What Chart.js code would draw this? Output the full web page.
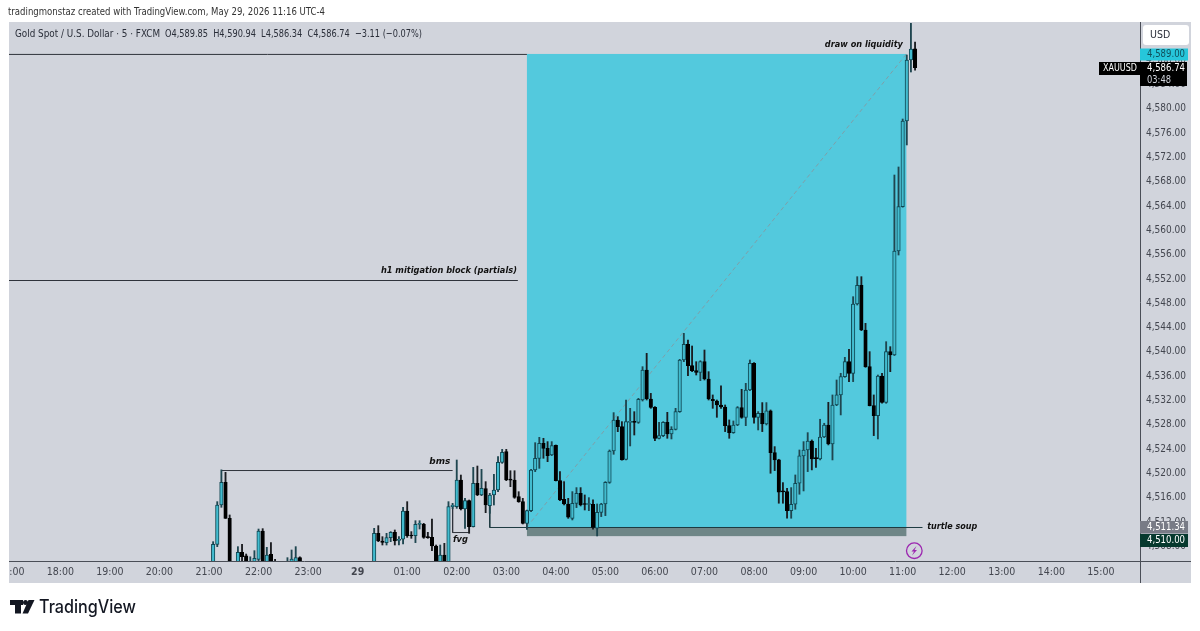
<!DOCTYPE html>
<html>
<head>
<meta charset="utf-8">
<title>XAUUSD 5m</title>
<script src="https://cdn.jsdelivr.net/npm/chart.js@4"></script>
<style>
html, body { margin: 0; padding: 0; background: #fff; }
canvas { display: block; }
</style>
</head>
<body>
<canvas id="chart" width="1200" height="631"></canvas>
<script>
// bars counted in 5 minute steps from 21:00, the ones below the visible range are left out
const barIndex = [
	1, 2, 3, 4, 5, 7, 8, 9, 10, 11, 12, 13, 14, 15, 16, 19, 20, 21, 22,
	40, 41, 42, 43, 44, 45, 46, 47, 48, 49, 50, 51, 52, 53, 54, 55, 56, 57, 58, 59,
	60, 61, 62, 63, 64, 65, 66, 67, 68, 69, 70, 71, 72, 73, 74, 75, 76, 77, 78, 79,
	80, 81, 82, 83, 84, 85, 86, 87, 88, 89, 90, 91, 92, 93, 94, 95, 96, 97, 98, 99,
	100, 101, 102, 103, 104, 105, 106, 107, 108, 109, 110, 111, 112, 113, 114, 115, 116, 117, 118, 119,
	120, 121, 122, 123, 124, 125, 126, 127, 128, 129, 130, 131, 132, 133, 134, 135, 136, 137, 138, 139,
	140, 141, 142, 143, 144, 145, 146, 147, 148, 149, 150, 151, 152, 153, 154, 155, 156, 157, 158, 159,
	160, 161, 162, 163, 164, 165, 166, 167, 168, 169, 170, 171
];
const opens = [
	4504, 4508.35, 4514.82, 4518.55, 4512.63, 4505, 4507.04, 4506.44, 4505, 4505, 4505.89, 4510.55, 4505, 4506.71, 4505.4, 4505.3, 4505.2, 4505.3, 4506.16,
	4504, 4510.16, 4508.9, 4508.63, 4509.45, 4510.33, 4509, 4509.18, 4513.83, 4509.89, 4509.78, 4511.64, 4511.64, 4509.61, 4509.5, 4508.08, 4504.5, 4506.6, 4504.5, 4514.55,
	4514.55, 4518.93, 4514.16, 4515.53, 4511.26, 4518.38, 4516.46, 4517.51, 4514.71, 4516.46, 4517.29, 4521.83, 4523.59, 4518.93, 4518.93, 4516.19, 4515.37, 4511.81, 4513.89, 4520.58,
	4522.5, 4524.96, 4524.14, 4523.05, 4524.64, 4518.83, 4515.76, 4514.99, 4512.63, 4515.1, 4516.74, 4514.94, 4514.9, 4514.94, 4510.99, 4513.62, 4514.99, 4518.55, 4523.7, 4528.8,
	4527.7, 4522.33, 4528.42, 4528.45, 4528.42, 4532.09, 4537.02, 4532.25, 4530.88, 4525.79, 4526.22, 4528.42, 4526.5, 4527.27, 4530.17, 4538.66, 4541.24, 4537.73, 4536.91, 4536.64,
	4538.39, 4535.54, 4532.2, 4531.93, 4531.27, 4530.94, 4527.87, 4526.72, 4527.98, 4530.83, 4529.24, 4533.74, 4538.12, 4529.24, 4529.9, 4528.15, 4530.29, 4523.44, 4522.23, 4517.02,
	4517.02, 4513.9, 4514.94, 4518.39, 4522.89, 4523.87, 4525.35, 4522.5, 4522.39, 4526.01, 4527.98, 4524.86, 4531.27, 4532.92, 4535.93, 4538.4, 4536.48, 4547.88, 4550.95, 4543.6,
	4537.57, 4531.16, 4529.52, 4536.04, 4531.71, 4540.04, 4539.49, 4556.59, 4563.88, 4577.97, 4588, 4589.85
];
const highs = [
	4508.79, 4515.37, 4520.6, 4520.19, 4513.18, 4507.97, 4508.35, 4506.76, 4506.3, 4507.31, 4510.87, 4510.93, 4507.86, 4508.63, 4505.9, 4506.16, 4507.42, 4507.97, 4506.3,
	4510.98, 4511.42, 4509.61, 4510.16, 4510.44, 4510.71, 4509.61, 4514.44, 4515.37, 4510.44, 4512.24, 4512.24, 4511.81, 4510.33, 4512.52, 4508.24, 4508.24, 4508.52, 4515.37, 4515.09,
	4522.22, 4519.75, 4515.92, 4515.64, 4521.01, 4521.23, 4520.68, 4518.66, 4516.74, 4519.86, 4522.77, 4523.97, 4523.97, 4520.46, 4520.46, 4517.01, 4515.92, 4514, 4520.69, 4525.07,
	4525.95, 4525.79, 4525.24, 4525.24, 4524.69, 4520.31, 4518.66, 4515.92, 4517.02, 4517.68, 4517.68, 4516.47, 4516.03, 4515.65, 4514.99, 4515.1, 4518.66, 4523.87, 4530.01, 4529.35,
	4528.53, 4532.09, 4530.72, 4530.17, 4532.36, 4537.57, 4539.76, 4533.18, 4530.99, 4528.42, 4528.53, 4530.06, 4527.7, 4530.72, 4538.77, 4543.05, 4541.95, 4540.97, 4538.39, 4538.55,
	4540.31, 4536.75, 4532.92, 4532.09, 4534.4, 4531.27, 4528.81, 4528.64, 4531, 4533.85, 4534.83, 4538.67, 4538.23, 4530.18, 4531.66, 4531.66, 4530.45, 4524.42, 4522.34, 4518.5,
	4517.57, 4517.68, 4519.76, 4523.87, 4525.24, 4526.72, 4525.52, 4524.15, 4528.92, 4528.26, 4531.71, 4532.92, 4535.38, 4536.48, 4539.11, 4540.42, 4549.08, 4552.37, 4552.37, 4544.7,
	4540.04, 4532.92, 4536.2, 4536.48, 4541.68, 4540.86, 4569.09, 4570.41, 4578.3, 4588.83, 4594.5, 4590.94
];
const lows = [
	4503, 4507.97, 4514.44, 4512.6, 4503.5, 4504.5, 4505, 4504.5, 4504.6, 4504.6, 4505.3, 4504.5, 4504.6, 4504.5, 4504.8, 4505, 4504.9, 4504.9, 4504.7,
	4503.5, 4508.79, 4508.24, 4508.24, 4508.79, 4508.24, 4508.24, 4508.41, 4509.5, 4509.34, 4508.63, 4510.87, 4509.34, 4509.34, 4507.31, 4503.5, 4504, 4504, 4504, 4514.2,
	4514.27, 4514, 4510.98, 4510.16, 4511.2, 4516.35, 4516.35, 4513.56, 4513.45, 4514.82, 4517.01, 4521.67, 4518.82, 4517.83, 4515.92, 4515.26, 4511.7, 4510.8, 4513.73, 4520.31,
	4520.85, 4522.5, 4521.95, 4522.94, 4518.77, 4515.54, 4514.83, 4512.63, 4512.36, 4514.39, 4514.66, 4514, 4513.89, 4510.83, 4509.73, 4512.91, 4513.07, 4518.39, 4523.16, 4526.88,
	4522.2, 4522.22, 4524.53, 4526.33, 4528.25, 4531.92, 4532.09, 4530.72, 4525.4, 4525.68, 4526.06, 4525.79, 4525.68, 4527.16, 4530.06, 4538.39, 4536.09, 4536.75, 4536.2, 4535.27,
	4535.38, 4532.09, 4530.72, 4529.24, 4530.72, 4526.89, 4525.79, 4526.61, 4527.87, 4529.08, 4527.87, 4533.63, 4528.26, 4527.16, 4526.89, 4527.98, 4520.04, 4520.48, 4515.11, 4515.11,
	4512.64, 4512.64, 4514.12, 4516.59, 4517.13, 4520.31, 4520.59, 4521.02, 4522.23, 4525.9, 4524.7, 4522.23, 4531.16, 4529.63, 4535.82, 4535.11, 4535.11, 4547.71, 4543.49, 4537.46,
	4531.11, 4526.23, 4525.68, 4531.55, 4531.55, 4536.75, 4539.4, 4555.93, 4563.8, 4574.03, 4586.03, 4586.34
];
const closes = [
	4508.35, 4514.82, 4518.55, 4512.63, 4504, 4507.04, 4506.33, 4505, 4505.3, 4506.05, 4510.55, 4505, 4506.6, 4505, 4505.2, 4505.5, 4505.94, 4506.16, 4505,
	4510.16, 4508.9, 4508.68, 4509.45, 4510.33, 4508.9, 4509.07, 4513.83, 4509.78, 4509.72, 4511.64, 4511.7, 4509.5, 4509.45, 4508.08, 4504, 4506.6, 4504.5, 4514.55, 4514.82,
	4518.93, 4514.16, 4515.53, 4511.26, 4518.38, 4516.46, 4517.56, 4514.82, 4516.46, 4517.29, 4521.83, 4523.48, 4518.93, 4518.9, 4516.08, 4515.37, 4511.81, 4513.89, 4520.58, 4522.5,
	4524.96, 4524.14, 4522.94, 4524.58, 4518.83, 4515.65, 4514.99, 4512.8, 4515.1, 4516.74, 4514.83, 4514.9, 4514.94, 4511.15, 4513.62, 4514.99, 4518.55, 4523.7, 4528.8, 4527.7,
	4522.22, 4528.53, 4528.45, 4528.42, 4532.2, 4537.02, 4532.31, 4530.88, 4525.79, 4526.22, 4528.42, 4526.5, 4527.27, 4530.17, 4538.66, 4541.24, 4537.73, 4536.91, 4536.64, 4538.39,
	4535.54, 4532.25, 4531.98, 4531.27, 4530.94, 4527.87, 4526.72, 4527.98, 4530.83, 4529.24, 4533.74, 4538.12, 4529.24, 4529.9, 4528.15, 4530.29, 4523.44, 4522.23, 4516.91, 4516.98,
	4513.9, 4514.94, 4518.39, 4522.89, 4523.87, 4525.35, 4522.39, 4522.45, 4526.01, 4527.98, 4524.86, 4531.27, 4532.92, 4535.93, 4538.4, 4536.48, 4547.88, 4550.95, 4543.6, 4537.57,
	4531.16, 4529.52, 4536.04, 4531.71, 4540.04, 4539.49, 4556.59, 4563.88, 4577.97, 4588, 4589.82, 4586.74
];

const hourLabels = ["17:00", "18:00", "19:00", "20:00", "21:00", "22:00", "23:00", "29", "01:00", "02:00", "03:00", "04:00", "05:00", "06:00", "07:00", "08:00", "09:00", "10:00", "11:00", "12:00", "13:00", "14:00", "15:00"];
const hourBars = [-48, -36, -24, -12, 0, 12, 24, 36, 48, 60, 72, 84, 96, 108, 120, 132, 144, 156, 168, 180, 192, 204, 216];
const priceTicks = [4508, 4512, 4516, 4520, 4524, 4528, 4532, 4536, 4540, 4544, 4548, 4552, 4556, 4560, 4564, 4568, 4572, 4576, 4580, 4584, 4588, 4592];

// drawn levels and tool outlines, [bar, price]
const targetLine = [[-49, 4588.92], [77, 4588.92]];
const mitigationLine = [[-49, 4551.74], [74.8, 4551.74]];
const bmsLine = [[3, 4520.49], [59, 4520.49]];
const fvgLine = [[59, 4514.55], [59, 4510.29], [63, 4510.29], [63, 4511.26]];
const soupLine = [[68, 4514.7], [68, 4511.12], [172.8, 4511.12]];
const rewardLine = [[77, 4511.2], [168.9, 4589]];

const noteTexts = ["draw on liquidity", "h1 mitigation block (partials)", "bms", "fvg", "turtle soup"];
const noteBars = [158.6, 58.1, 55.9, 60.9, 180];
const notePrices = [4590.47, 4553.3, 4522.05, 4509.06, 4511.36];
const noteWidths = [78, 136, 21, 15, 50];

const headerText = "Gold Spot / U.S. Dollar · 5 · FXCM";
const ohlcText = "O4,589.85  H4,590.94  L4,586.34  C4,586.74  −3.11 (−0.07%)";
const creditText = "tradingmonstaz created with TradingView.com, May 29, 2026 11:16 UTC-4";

const uiFont = "'DejaVu Sans Condensed', 'Noto Sans', sans-serif";
const panelColor = "#d1d4dc";
const upFill = "#43bccf";
const upEdge = "#0f4753";
const downColor = "#000000";

function priceLabel(v) {
	return v.toLocaleString("en-US", { minimumFractionDigits: 2, maximumFractionDigits: 2 });
}

function lineSet(points, color, dash) {
	return {
		type: "line",
		data: points.map((p) => ({ x: p[0], y: p[1] })),
		borderColor: color,
		borderWidth: 1,
		borderDash: dash || [],
		pointRadius: 0,
		order: 2,
	};
}

function put(ctx, text, x, y, font, color, align, width) {
	ctx.font = font;
	ctx.fillStyle = color;
	ctx.textAlign = align || "left";
	ctx.textBaseline = "middle";
	if (width) ctx.fillText(text, x, y, width);
	else ctx.fillText(text, x, y);
}

const tvPlugin = {
	id: "tvPlugin",
	beforeDraw(chart) {
		let ctx = chart.ctx;
		ctx.save();
		ctx.fillStyle = "#ffffff";
		ctx.fillRect(0, 0, 1200, 631);
		ctx.fillStyle = panelColor;
		ctx.fillRect(9, 22, 1182, 561);
		ctx.restore();
	},
	beforeDatasetsDraw(chart) {
		// long position tool, profit and stop zones
		let ctx = chart.ctx;
		let x = chart.scales.x;
		let y = chart.scales.y;
		let left = x.getPixelForValue(77);
		let right = x.getPixelForValue(168.9);
		ctx.save();
		ctx.fillStyle = "#53c9dd";
		ctx.fillRect(left, y.getPixelForValue(4589), right - left, y.getPixelForValue(4511.2) - y.getPixelForValue(4589));
		ctx.fillStyle = "#6f8687";
		ctx.fillRect(left, y.getPixelForValue(4511.2), right - left, y.getPixelForValue(4509.7) - y.getPixelForValue(4511.2));
		ctx.restore();
	},
	afterDraw(chart) {
		let ctx = chart.ctx;
		let x = chart.scales.x;
		let y = chart.scales.y;
		let tagFont = "10.5px " + uiFont;
		ctx.save();

		// hide the part of the first hour label that leaves the panel
		ctx.fillStyle = "#ffffff";
		ctx.fillRect(0, 560, 9, 30);

		ctx.strokeStyle = "#4a4e57";
		ctx.lineWidth = 1;
		ctx.beginPath();
		ctx.moveTo(9, 561.5);
		ctx.lineTo(1191, 561.5);
		ctx.moveTo(1140.5, 22);
		ctx.lineTo(1140.5, 583);
		ctx.stroke();

		noteTexts.forEach((t, i) => {
			put(ctx, t, x.getPixelForValue(noteBars[i]), y.getPixelForValue(notePrices[i]), "italic bold 9.5px 'DejaVu Sans', sans-serif", "#111111", "center", noteWidths[i]);
		});

		put(ctx, creditText, 8, 12.5, "11px " + uiFont, "#333333", "left", 317);
		put(ctx, headerText, 15, 34, "11px " + uiFont, "#2a2e39", "left", 145);
		put(ctx, ohlcText, 165, 34, "11px " + uiFont, "#2a2e39", "left", 257);

		// USD button
		ctx.fillStyle = "#ffffff";
		ctx.beginPath();
		ctx.roundRect(1143, 25, 46, 20, 3);
		ctx.fill();
		put(ctx, "USD", 1150, 35, tagFont, "#2a2e39");

		// price tags on the axis
		ctx.fillStyle = "#26c6da";
		ctx.fillRect(1140, 48.5, 48, 12);
		put(ctx, priceLabel(4589), 1147, 54.5, tagFont, "#11505c", "left", 38);

		ctx.fillStyle = "#000000";
		ctx.fillRect(1140, 62, 47, 24);
		ctx.fillRect(1099, 62, 41, 13);
		put(ctx, "XAUUSD", 1120, 68.5, tagFont, "#ffffff", "center", 34);
		put(ctx, priceLabel(4586.74), 1147, 68.5, tagFont, "#ffffff", "left", 38);
		put(ctx, "03:48", 1147, 80, tagFont, "#d1d4dc", "left", 24);

		ctx.fillStyle = "#787b86";
		ctx.fillRect(1140, 521, 48, 12.5);
		put(ctx, priceLabel(4511.34), 1147, 527.5, tagFont, "#ffffff", "left", 38);
		ctx.fillStyle = "#06392e";
		ctx.fillRect(1140, 534, 48, 13);
		put(ctx, priceLabel(4510), 1147, 540.5, tagFont, "#ffffff", "left", 38);

		// alert marker under the last bars
		ctx.strokeStyle = "#9c27b0";
		ctx.lineWidth = 1.3;
		ctx.beginPath();
		ctx.arc(914.3, 550.7, 7.8, 0, Math.PI * 2);
		ctx.stroke();
		ctx.fillStyle = "#9c27b0";
		ctx.beginPath();
		ctx.moveTo(916.5, 546);
		ctx.lineTo(911.5, 551.5);
		ctx.lineTo(914, 551.5);
		ctx.lineTo(912, 555.5);
		ctx.lineTo(917, 550);
		ctx.lineTo(914.5, 550);
		ctx.closePath();
		ctx.fill();

		// TradingView mark
		ctx.fillStyle = "#131722";
		ctx.fillRect(10, 600, 13, 5);
		ctx.fillRect(15, 600, 6, 13.5);
		ctx.beginPath();
		ctx.arc(25.5, 602.5, 2.5, 0, Math.PI * 2);
		ctx.fill();
		ctx.beginPath();
		ctx.moveTo(28.5, 600);
		ctx.lineTo(34.5, 600);
		ctx.lineTo(28, 613.5);
		ctx.lineTo(22.5, 613.5);
		ctx.closePath();
		ctx.fill();
		put(ctx, "TradingView", 39, 607.5, "500 18px Inter, sans-serif", "#131722", "left", 97);

		ctx.restore();
	},
};

let bars = barIndex.map((b, i) => ({ x: b, y: [opens[i], closes[i]] }));
let wicks = barIndex.map((b, i) => ({ x: b, y: [lows[i], highs[i]] }));

function isUp(c) {
	return closes[c.dataIndex] >= opens[c.dataIndex];
}

new Chart(document.getElementById("chart"), {
	data: {
		datasets: [
			{
				type: "bar",
				data: bars,
				barThickness: 3.5,
				borderWidth: 1,
				borderSkipped: false,
				minBarLength: 1,
				grouped: false,
				backgroundColor: (c) => (isUp(c) ? upFill : downColor),
				borderColor: (c) => (isUp(c) ? upEdge : downColor),
				order: 0,
			},
			{
				type: "bar",
				data: wicks,
				barThickness: 1.2,
				borderWidth: 0,
				grouped: false,
				backgroundColor: (c) => (isUp(c) ? "#1f4650" : "#1b1d21"),
				order: 1,
			},
			lineSet(targetLine, "#2f333b"),
			lineSet(mitigationLine, "#2f333b"),
			lineSet(bmsLine, "#2f333b"),
			lineSet(fvgLine, "#2f333b"),
			lineSet(soupLine, "#1d3a40"),
			lineSet(rewardLine, "#7f9fa9", [4, 3]),
		],
	},
	options: {
		responsive: false,
		animation: false,
		events: [],
		devicePixelRatio: 1,
		layout: { padding: { left: 9, top: 23, right: 9, bottom: 48 } },
		plugins: { legend: { display: false }, tooltip: { enabled: false } },
		scales: {
			x: {
				type: "linear",
				offset: false,
				min: -48.44,
				max: 225.48,
				grid: { display: false, drawTicks: false },
				border: { display: false },
				afterBuildTicks: (s) => {
					s.ticks = hourBars.map((v) => ({ value: v }));
				},
				afterFit: (s) => {
					s.height = 22;
					s.paddingLeft = 0;
					s.paddingRight = 0;
				},
				ticks: {
					autoSkip: false,
					maxRotation: 0,
					padding: 5,
					color: "#43464f",
					font: (c) => ({ family: uiFont, size: 10.5, weight: c.tick && c.tick.value === 36 ? "bold" : "normal" }),
					callback: (v) => hourLabels[hourBars.indexOf(v)],
				},
			},
			y: {
				type: "linear",
				position: "right",
				min: 4505.61,
				max: 4594.09,
				grid: { display: false, drawTicks: false },
				border: { display: false },
				afterBuildTicks: (s) => {
					s.ticks = priceTicks.map((v) => ({ value: v }));
				},
				afterFit: (s) => {
					s.width = 51;
					s.paddingTop = 0;
					s.paddingBottom = 0;
				},
				ticks: {
					padding: 6,
					color: "#43464f",
					font: { family: uiFont, size: 10 },
					callback: (v) => priceLabel(v),
				},
			},
		},
	},
	plugins: [tvPlugin],
});
</script>
</body>
</html>
